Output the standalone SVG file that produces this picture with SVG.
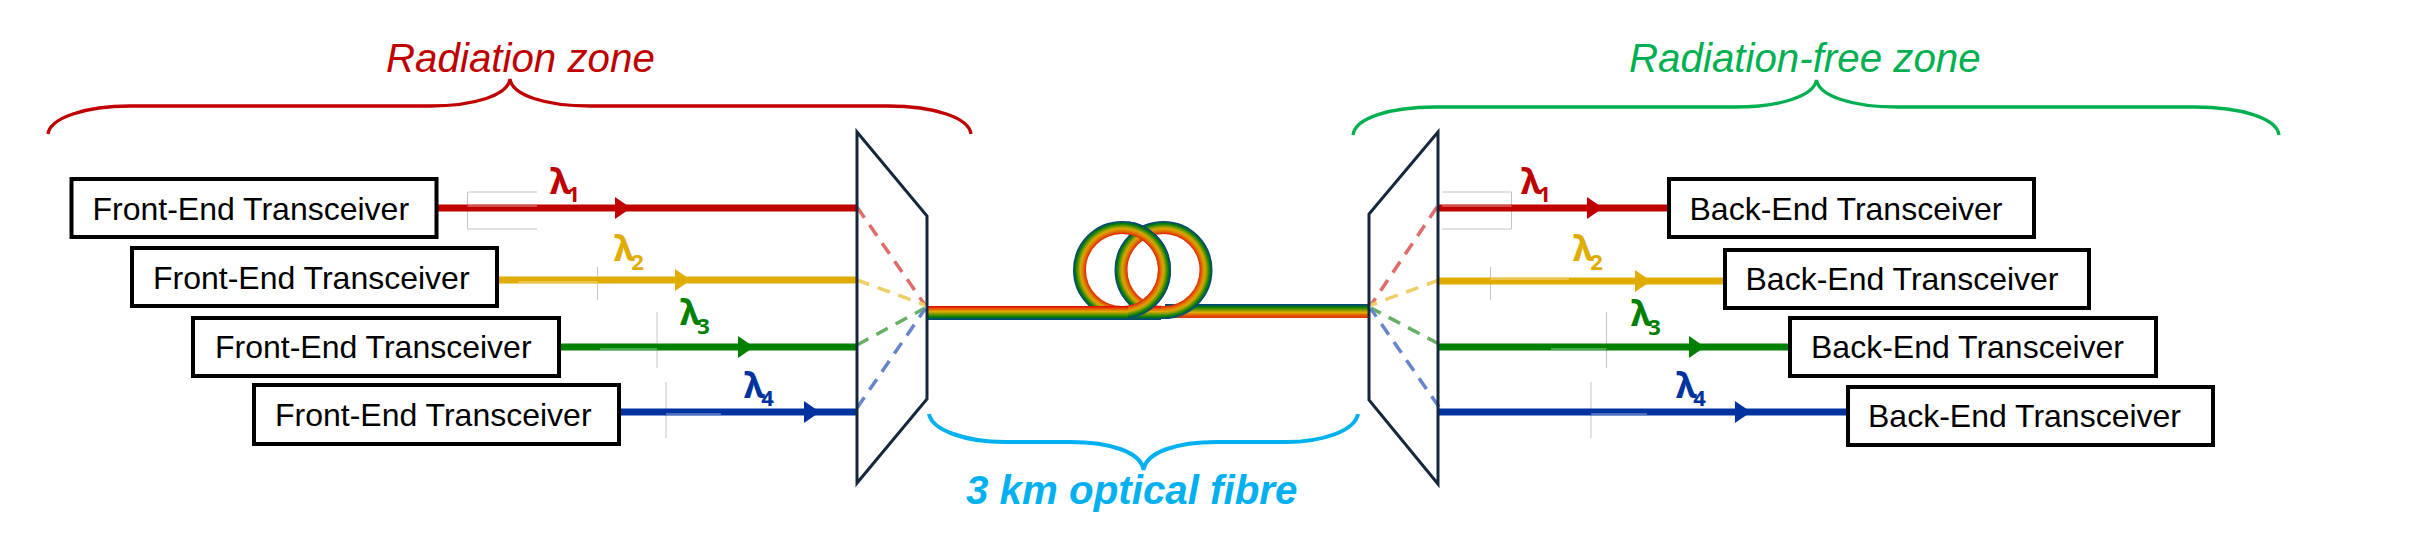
<svg xmlns="http://www.w3.org/2000/svg" width="2424" height="546" viewBox="0 0 2424 546">
<style>
text{font-family:"Liberation Sans",Arial,sans-serif}
.box{fill:#fff;stroke:#000;stroke-width:4}
.lbl{font-size:32px;fill:#000}
.zone{font-size:40.300px;font-style:italic}
.lam{font-family:"Noto Sans",sans-serif;font-weight:700;font-size:36px}
.sub{font-size:22px}
.ln{fill:none;stroke-width:7}
.brace{fill:none;stroke-width:3.300}
.dash{fill:none;stroke-width:3.500;stroke-dasharray:13 9}
.demux{fill:none;stroke:#14273c;stroke-width:3}
.guide{fill:none;stroke:#c4c4c4;stroke-width:1}
.patch{fill:none;stroke:#fff;stroke-opacity:.3;stroke-width:2}
.r{stroke:#c00000;fill:#c00000}.y{stroke:#e0ac00;fill:#e0ac00}.g{stroke:#008000;fill:#008000}.b{stroke:#0033a0;fill:#0033a0}
.lam{stroke:none}
.ring{fill:none;stroke-width:13}
</style>
<defs>
<marker id="ar" markerUnits="userSpaceOnUse" markerWidth="18" markerHeight="22" refX="16" refY="11" orient="auto"><path d="M0 0L16 11L0 22Z" fill="#c00000"/></marker>
<marker id="ay" markerUnits="userSpaceOnUse" markerWidth="18" markerHeight="22" refX="16" refY="11" orient="auto"><path d="M0 0L16 11L0 22Z" fill="#e0ac00"/></marker>
<marker id="ag" markerUnits="userSpaceOnUse" markerWidth="18" markerHeight="22" refX="16" refY="11" orient="auto"><path d="M0 0L16 11L0 22Z" fill="#008000"/></marker>
<marker id="ab" markerUnits="userSpaceOnUse" markerWidth="18" markerHeight="22" refX="16" refY="11" orient="auto"><path d="M0 0L16 11L0 22Z" fill="#0033a0"/></marker>
<linearGradient id="fd" x1="0" y1="0" x2="0" y2="1">
<stop offset="0" stop-color="#e00000"/><stop offset=".2" stop-color="#e05a00"/><stop offset=".4" stop-color="#e0ac00"/><stop offset=".6" stop-color="#6a9600"/><stop offset=".8" stop-color="#007a10"/><stop offset="1" stop-color="#0a3a90"/>
</linearGradient>
<linearGradient id="fu" x1="0" y1="1" x2="0" y2="0">
<stop offset="0" stop-color="#e03000"/><stop offset=".2" stop-color="#e05a00"/><stop offset=".4" stop-color="#e0ac00"/><stop offset=".6" stop-color="#6a9600"/><stop offset=".8" stop-color="#007a10"/><stop offset="1" stop-color="#0a3a90"/>
</linearGradient>
<radialGradient id="rl" gradientUnits="userSpaceOnUse" cx="1122" cy="270" r="49">
<stop offset=".745" stop-color="#e03000"/><stop offset=".8" stop-color="#e07a00"/><stop offset=".85" stop-color="#d8a800"/><stop offset=".9" stop-color="#6a9600"/><stop offset=".95" stop-color="#007a10"/><stop offset="1" stop-color="#0a3a90"/>
</radialGradient>
<radialGradient id="rr" gradientUnits="userSpaceOnUse" cx="1163.500" cy="270" r="49">
<stop offset=".745" stop-color="#e03000"/><stop offset=".8" stop-color="#e07a00"/><stop offset=".85" stop-color="#d8a800"/><stop offset=".9" stop-color="#6a9600"/><stop offset=".95" stop-color="#007a10"/><stop offset="1" stop-color="#0a3a90"/>
</radialGradient>
<clipPath id="cl"><rect x="1128" y="200" width="60" height="130"/></clipPath>
</defs>
<rect width="2424" height="546" fill="#fff"/>

<g id="zone-radiation">
<path class="brace" stroke="#c00000" d="M48 134C50 118 85 106 130 106H430C475 106 508 95 510 79C512 95 545 106 590 106H888C935 106 969 118 971 134"/>
<text class="zone" fill="#c00000" x="386" y="72">Radiation zone</text>
</g>
<g id="zone-free">
<path class="brace" stroke="#00b050" d="M1353 135C1355 118 1390 107 1435 107H1735C1780 107 1814 96 1816.500 80C1819 96 1852 107 1897 107H2195C2240 107 2277 118 2279 135"/>
<text class="zone" fill="#00b050" x="1629" y="72">Radiation-free zone</text>
</g>
<g id="zone-fibre">
<path class="brace" stroke="#00b0f0" style="stroke-width:4" d="M929 414C932 430 965 442 1005 442H1070C1110 442 1141 452 1143.500 470C1146 452 1177 442 1217 442H1285C1325 442 1355 430 1358 414"/>
<text class="zone" font-weight="700" fill="#00b0f0" x="966" y="504">3 km optical fibre</text>
</g>

<g id="connectors">
<g id="guides">
<path class="guide" d="M537 192H467.500V229H537M597.500 267V300M657 312V368M666 382V438"/>
<path class="guide" d="M1442 192H1511.500V229H1442M1490.500 267V300M1606.500 312V368M1591 382V438"/>
</g>
<path class="ln r" marker-mid="url(#ar)" d="M438 208H631H857"/>
<path class="ln y" marker-mid="url(#ay)" d="M499 280H691H857"/>
<path class="ln g" marker-mid="url(#ag)" d="M561 347H754H857"/>
<path class="ln b" marker-mid="url(#ab)" d="M621 412H820H857"/>
<path class="ln r" marker-mid="url(#ar)" d="M1438 208H1603H1667"/>
<path class="ln y" marker-mid="url(#ay)" d="M1438 281H1651H1723"/>
<path class="ln g" marker-mid="url(#ag)" d="M1438 347H1705H1788"/>
<path class="ln b" marker-mid="url(#ab)" d="M1438 412H1751H1846"/>
<path class="patch" d="M467.500 206H537M518 282H597.500M600 349H657M666 414H721M1442 206H1511.500M1490.500 279H1569M1551 349H1606.500M1591 414H1647"/>
<path class="dash" stroke="#df6b6b" d="M857 207L925 305"/>
<path class="dash" stroke="#f0ce66" d="M857 280L925 305"/>
<path class="dash" stroke="#66b066" d="M857 345L925 308"/>
<path class="dash" stroke="#6685cc" d="M857 408L925 309"/>
<path class="dash" stroke="#df6b6b" d="M1437 207L1371 305"/>
<path class="dash" stroke="#f0ce66" d="M1439 280L1371 305"/>
<path class="dash" stroke="#66b066" d="M1439 344L1371 308"/>
<path class="dash" stroke="#6685cc" d="M1439 407L1371 309"/>
</g>

<g id="fibre">
<circle class="ring" cx="1122" cy="270" r="42.500" stroke="url(#rl)"/>
<rect x="1165" y="304" width="204" height="14" fill="url(#fu)"/>
<circle class="ring" cx="1163.500" cy="270" r="42.500" stroke="url(#rr)"/>
<rect x="927" y="306" width="234" height="14" fill="url(#fd)"/>
<circle class="ring" cx="1122" cy="270" r="42.500" stroke="url(#rl)" clip-path="url(#cl)"/>
</g>

<g id="demux-left"><path class="demux" d="M857 132L927 216V399L857 483Z"/></g>
<g id="demux-right"><path class="demux" d="M1438 132L1369 214V400L1438 484Z"/></g>

<g id="labels">
<text class="lam r" x="550" y="194">λ<tspan class="sub" dx="-3.500" dy="8">1</tspan></text>
<text class="lam y" x="614" y="261">λ<tspan class="sub" dx="-3.500" dy="9">2</tspan></text>
<text class="lam g" x="680" y="325">λ<tspan class="sub" dx="-3.500" dy="9">3</tspan></text>
<text class="lam b" x="744" y="398">λ<tspan class="sub" dx="-3.500" dy="8">4</tspan></text>
<text class="lam r" x="1521" y="194">λ<tspan class="sub" dx="-3.500" dy="8">1</tspan></text>
<text class="lam y" x="1573" y="261">λ<tspan class="sub" dx="-3.500" dy="9">2</tspan></text>
<text class="lam g" x="1631" y="326">λ<tspan class="sub" dx="-3.500" dy="9">3</tspan></text>
<text class="lam b" x="1676" y="398">λ<tspan class="sub" dx="-3.500" dy="8">4</tspan></text>
</g>

<g id="front-1"><rect class="box" x="71.500" y="179" width="365" height="58"/><text class="lbl" x="92.500" y="220">Front-End Transceiver</text></g>
<g id="front-2"><rect class="box" x="132" y="248" width="365" height="58"/><text class="lbl" x="153" y="289">Front-End Transceiver</text></g>
<g id="front-3"><rect class="box" x="193" y="318" width="366" height="58"/><text class="lbl" x="215" y="358">Front-End Transceiver</text></g>
<g id="front-4"><rect class="box" x="254" y="385" width="365" height="59"/><text class="lbl" x="275" y="426">Front-End Transceiver</text></g>
<g id="back-1"><rect class="box" x="1669" y="179" width="365" height="58"/><text class="lbl" x="1689.500" y="220">Back-End Transceiver</text></g>
<g id="back-2"><rect class="box" x="1725" y="250" width="364" height="58"/><text class="lbl" x="1745.500" y="290">Back-End Transceiver</text></g>
<g id="back-3"><rect class="box" x="1790" y="318" width="366" height="58"/><text class="lbl" x="1811" y="358">Back-End Transceiver</text></g>
<g id="back-4"><rect class="box" x="1848" y="387" width="365" height="58"/><text class="lbl" x="1868" y="427">Back-End Transceiver</text></g>
</svg>
